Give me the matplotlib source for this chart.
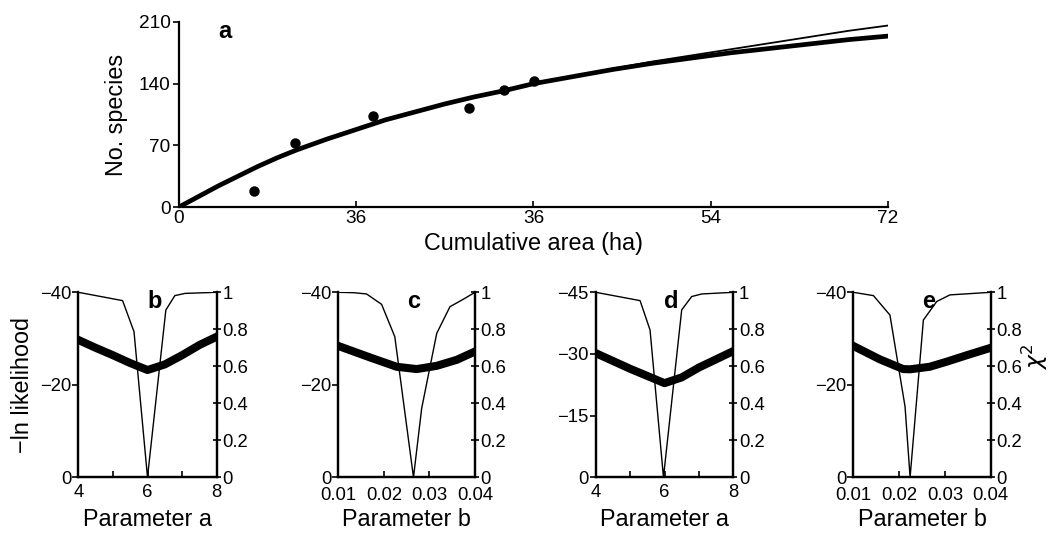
import matplotlib
matplotlib.use("Agg")
import matplotlib.pyplot as plt

plt.rcParams['font.family'] = ['Liberation Sans', 'DejaVu Sans']

# ---------------- data: panel a ----------------
area_obs = [7.6, 11.8, 19.7, 29.4, 33.0, 36.1]
species_obs = [18.6, 72.6, 103.3, 112.8, 132.5, 143.0]

area_fit = [0, 2, 4, 6, 8, 10, 12, 15, 18, 21, 24, 27, 30, 33, 36,
            40, 44, 48, 52, 56, 60, 64, 68, 72]
species_thick = [0, 12, 24, 35, 46, 56, 65, 77, 88, 99, 108, 117, 125, 132, 140,
                 148, 156, 163, 169, 175, 180, 185, 190, 194]
species_thin = [0, 12, 24, 35, 46, 56, 65, 77, 88, 99, 108, 117, 125, 132, 140,
                148, 157, 165, 172, 179, 186, 193, 200, 206]

a_xticks = [0, 18, 36, 54, 72]
a_xticklabels = ['0', '36', '36', '54', '72']
a_yticks = [0, 70, 140, 210]
a_yticklabels = ['0', '70', '140', '210']

# ---------------- data: panels b-e ----------------
b_like_x = [4, 4.5, 5, 5.5, 6, 6.5, 7, 7.5, 8]
b_like_y = [-29.7, -28.0, -26.4, -24.7, -23.2, -24.4, -26.4, -28.6, -30.4]
b_chi_x = [4, 5.28, 5.61, 6.0, 6.53, 6.79, 7.08, 8]
b_chi_y = [1.0, 0.955, 0.787, 0.0, 0.904, 0.982, 0.994, 1.0]

c_like_x = [0.01, 0.017, 0.0228, 0.0272, 0.0316, 0.036, 0.04]
c_like_y = [-28.4, -25.9, -23.9, -23.4, -24.1, -25.4, -27.2]
c_chi_x = [0.01, 0.0133, 0.0162, 0.0195, 0.0224, 0.0265, 0.0283, 0.0316, 0.0345, 0.0374, 0.04]
c_chi_y = [1.0, 0.998, 0.991, 0.935, 0.76, 0.0, 0.373, 0.778, 0.922, 0.962, 1.0]

d_like_x = [4, 5, 6, 6.5, 7, 7.5, 8]
d_like_y = [-30.2, -26.4, -22.9, -24.3, -26.7, -28.7, -30.7]
d_chi_x = [4, 5.29, 5.58, 5.97, 6.5, 6.79, 7.08, 8]
d_chi_y = [1.0, 0.955, 0.796, 0.0, 0.905, 0.977, 0.991, 1.0]

e_like_x = [0.01, 0.0158, 0.0209, 0.0224, 0.0267, 0.0304, 0.0348, 0.04]
e_like_y = [-28.4, -25.5, -23.4, -23.35, -23.9, -25.0, -26.4, -28.0]
e_chi_x = [0.01, 0.0144, 0.018, 0.0213, 0.0224, 0.0253, 0.0282, 0.0311, 0.04]
e_chi_y = [1.0, 0.982, 0.877, 0.382, 0.0, 0.85, 0.95, 0.986, 1.0]

param_a_ticks = [4, 5, 6, 7, 8]
param_a_labels = ['4', '', '6', '', '8']
param_b_ticks = [0.01, 0.02, 0.03, 0.04]
param_b_labels = ['0.01', '0.02', '0.03', '0.04']
like_ticks_40 = [0, -20, -40]
like_labels_40 = ['0', '\u221220', '\u221240']
like_ticks_45 = [0, -15, -30, -45]
like_labels_45 = ['0', '\u221215', '\u221230', '\u221245']
chi_ticks = [0, 0.2, 0.4, 0.6, 0.8, 1.0]
chi_labels = ['0', '0.2', '0.4', '0.6', '0.8', '1']

TICK_FS = 13.7
BTICK_FS = 13.3
LAB_FS = 16.8
LET_FS = 17
SPINE_LW = 1.6

W, H = 1051, 534
fig = plt.figure(figsize=(W / 100, H / 100), dpi=100)


def frac(left, top, right, bottom):
    return [left / W, 1 - bottom / H, (right - left) / W, (bottom - top) / H]


# ---------------- panel a ----------------
ax = fig.add_axes(frac(179, 22, 888, 207))
ax.plot(area_fit, species_thin, color='black', lw=1.3, zorder=2)
ax.plot(area_fit, species_thick, color='black', lw=3.4, zorder=3,
        solid_joinstyle='round')
ax.plot(area_obs, species_obs, 'o', color='black', ms=6.5, zorder=4)
ax.set_xlim(0, 72)
ax.set_ylim(0, 210)
ax.set_xticks(a_xticks)
ax.set_xticklabels(a_xticklabels)
ax.set_yticks(a_yticks)
ax.set_yticklabels(a_yticklabels)
ax.spines['top'].set_visible(False)
ax.spines['right'].set_visible(False)
for s in ('left', 'bottom'):
    ax.spines[s].set_linewidth(SPINE_LW)
ax.tick_params(axis='x', direction='in', length=4, width=1.2, labelsize=TICK_FS, pad=2)
ax.tick_params(axis='y', direction='out', length=4, width=1.2, labelsize=TICK_FS, pad=2)
ax.set_xlabel('Cumulative area (ha)', fontsize=LAB_FS, labelpad=4)
ax.set_ylabel('No. species', fontsize=LAB_FS)
ax.yaxis.set_label_coords(-0.072, 0.5)
ax.text(0.065, 0.95, 'a', transform=ax.transAxes, fontsize=LET_FS,
        fontweight='bold', ha='center', va='center')

# ---------------- panels b-e ----------------
panels = [
    ('b', 78.3, 216.7, b_like_x, b_like_y, b_chi_x, b_chi_y, (4, 8), param_a_ticks, param_a_labels,
     -40, like_ticks_40, like_labels_40, 'Parameter a', 5),
    ('c', 338.3, 475.0, c_like_x, c_like_y, c_chi_x, c_chi_y, (0.01, 0.04), param_b_ticks, param_b_labels,
     -40, like_ticks_40, like_labels_40, 'Parameter b', 7),
    ('d', 595.7, 733.3, d_like_x, d_like_y, d_chi_x, d_chi_y, (4, 8), param_a_ticks, param_a_labels,
     -45, like_ticks_45, like_labels_45, 'Parameter a', 5),
    ('e', 853.3, 990.7, e_like_x, e_like_y, e_chi_x, e_chi_y, (0.01, 0.04), param_b_ticks, param_b_labels,
     -40, like_ticks_40, like_labels_40, 'Parameter b', 7),
]

for i, (letter, l, r, lx, ly, cx, cy, xl, xt, xtl, ymin, yt, ytl, xlab, xpad) in enumerate(panels):
    axl = fig.add_axes(frac(l, 292.3, r, 477.3))
    axr = axl.twinx()
    axl.plot(lx, ly, color='black', lw=5.8, solid_joinstyle='round', zorder=3)
    axr.plot(cx, cy, color='black', lw=1.0, zorder=2)
    axl.set_xlim(*xl)
    axl.set_ylim(0, ymin)
    axr.set_ylim(0, 1)
    axl.set_xticks(xt)
    axl.set_xticklabels(xtl)
    axl.set_yticks(yt)
    axl.set_yticklabels(ytl)
    axr.set_yticks(chi_ticks)
    axr.set_yticklabels(chi_labels)
    for a_ in (axl, axr):
        a_.spines['top'].set_visible(False)
        for s in ('left', 'right', 'bottom'):
            a_.spines[s].set_linewidth(SPINE_LW)
    axl.tick_params(axis='x', direction='in', length=4, width=1.2, labelsize=BTICK_FS, pad=xpad)
    axl.tick_params(axis='y', direction='out', length=4, width=1.2, labelsize=BTICK_FS, pad=1)
    axr.tick_params(axis='y', direction='inout', length=6, width=1.2, labelsize=BTICK_FS, pad=1)
    axl.set_xlabel(xlab, fontsize=LAB_FS, labelpad=3 + (7 - xpad))
    axl.text(0.55, 0.95, letter, transform=axl.transAxes, fontsize=LET_FS,
             fontweight='bold', ha='center', va='center')
    if i == 0:
        axl.set_ylabel('\u2212ln likelihood', fontsize=LAB_FS, labelpad=4)

fig.text(1035 / W, 1 - 357 / H, '$\\chi^2$', fontsize=LAB_FS, rotation=90,
         ha='center', va='center')

fig.savefig('out.png', dpi=100)
